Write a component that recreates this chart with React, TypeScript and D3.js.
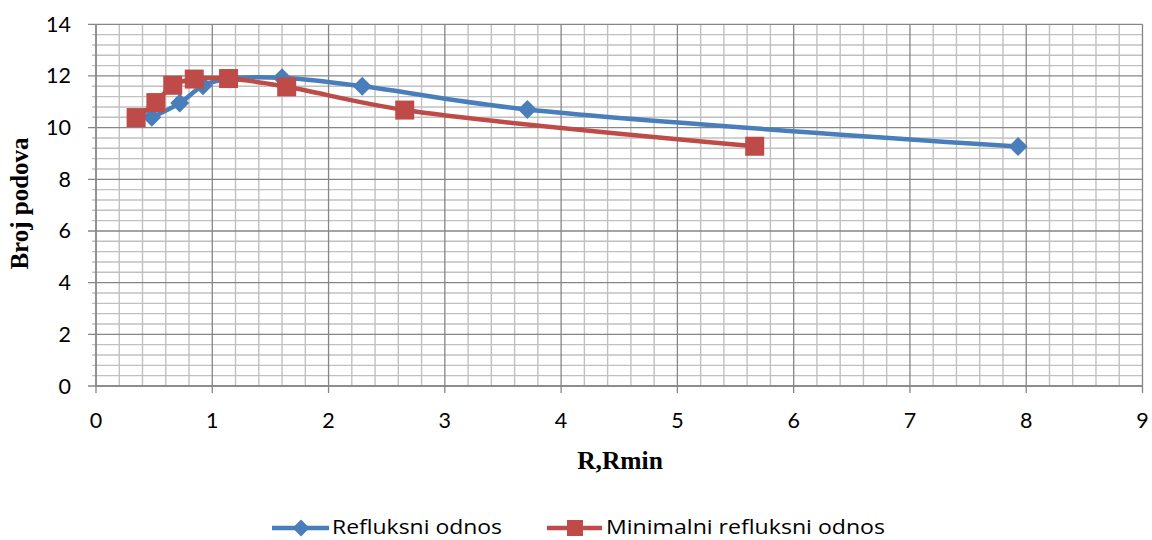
import React from "react";
import * as d3 from "d3";

const refluksX = [0.48, 0.72, 0.92, 1.12, 1.6, 2.29, 3.71, 7.93];
const refluksY = [10.4, 10.95, 11.62, 11.88, 11.93, 11.6, 10.7, 9.27];
const minX = [0.345, 0.515, 0.66, 0.845, 1.14, 1.64, 2.655, 5.665];
const minY = [10.39, 10.97, 11.64, 11.88, 11.9, 11.58, 10.68, 9.28];
const xTicks = [0, 1, 2, 3, 4, 5, 6, 7, 8, 9];
const yTicks = [0, 2, 4, 6, 8, 10, 12, 14];
const seriesNames = ["Refluksni odnos", "Minimalni refluksni odnos"];
const xTitle = "R,Rmin";
const yTitle = "Broj podova";

const BLUE = "#4A7EBB";
const RED = "#BE4B48";
const SANS = "Lato, 'Open Sans', sans-serif";
const LEG = "'Open Sans', Lato, sans-serif";
const SERIF = "'Liberation Serif', 'DejaVu Serif', serif";

export default function App() {
  const x = d3.scaleLinear().domain([0, 9]).range([96, 1142.5]);
  const y = d3.scaleLinear().domain([0, 14]).range([386, 24.3]);
  const minorX = d3.range(0, 9.0001, 0.2).filter((v) => Math.abs(v - Math.round(v)) > 1e-6);
  const minorY = d3.range(0, 14.0001, 0.4).filter((v) => Math.abs(v / 2 - Math.round(v / 2)) > 1e-6);
  const line = d3
    .line<[number, number]>()
    .x((d) => x(d[0]))
    .y((d) => y(d[1]))
    .curve(d3.curveCatmullRom.alpha(0.5));
  const blue: [number, number][] = refluksX.map((v, i) => [v, refluksY[i]]);
  const red: [number, number][] = minX.map((v, i) => [v, minY[i]]);
  const diamond = (cx: number, cy: number, r: number) =>
    `M${cx},${cy - r}L${cx + r},${cy}L${cx},${cy + r}L${cx - r},${cy}Z`;

  return (
    <svg
      width={1152}
      height={540}
      style={{ position: "absolute", left: 0, top: 0, background: "#fff" }}
    >
      {minorX.map((v) => (
        <line key={"mx" + v} x1={x(v)} x2={x(v)} y1={y(0)} y2={y(14)} stroke="#C0C0C0" strokeWidth={1.4} />
      ))}
      {minorY.map((v) => (
        <line key={"my" + v} x1={x(0) - 4} x2={x(9)} y1={y(v)} y2={y(v)} stroke="#C0C0C0" strokeWidth={1.4} />
      ))}
      {xTicks.map((v) => (
        <line key={"gx" + v} x1={x(v)} x2={x(v)} y1={y(0) + 7} y2={y(14)} stroke="#868686" strokeWidth={1.3} />
      ))}
      {yTicks.map((v) => (
        <line key={"gy" + v} x1={x(0) - 8} x2={x(9)} y1={y(v)} y2={y(v)} stroke="#868686" strokeWidth={1.3} />
      ))}
      <line x1={x(0)} x2={x(0)} y1={y(0)} y2={y(14)} stroke="#868686" strokeWidth={1.4} />
      <line x1={x(0)} x2={x(9)} y1={y(0)} y2={y(0)} stroke="#868686" strokeWidth={1.4} />

      {xTicks.map((v) => (
        <text key={"tx" + v} x={x(v)} y={428} textAnchor="middle" fontFamily={SANS} fontSize={21.5} fill="#000">
          {v}
        </text>
      ))}
      {yTicks.map((v) => (
        <text key={"ty" + v} x={71} y={y(v) + 7.5} textAnchor="end" fontFamily={SANS} fontSize={21.5} fill="#000">
          {v}
        </text>
      ))}

      <text x={620} y={469} textAnchor="middle" fontFamily={SERIF} fontWeight="bold" fontSize={25.5}>
        {xTitle}
      </text>
      <text
        transform={`translate(28,203.5) rotate(-90)`}
        textAnchor="middle"
        fontFamily={SERIF}
        fontWeight="bold"
        fontSize={25}
      >
        {yTitle}
      </text>

      <path d={line(blue) || ""} fill="none" stroke={BLUE} strokeWidth={4.5} />
      {blue.map((d, i) => (
        <path key={"b" + i} d={diamond(x(d[0]), y(d[1]), 9.5)} fill={BLUE} />
      ))}
      <path d={line(red) || ""} fill="none" stroke={RED} strokeWidth={4.5} />
      {red.map((d, i) => (
        <rect key={"r" + i} x={x(d[0]) - 9.5} y={y(d[1]) - 9.5} width={19} height={19} fill={RED} />
      ))}

      <line x1={272} x2={329} y1={528} y2={528} stroke={BLUE} strokeWidth={4.5} />
      <path d={diamond(301, 528, 8.5)} fill={BLUE} />
      <text x={332} y={534} fontFamily={LEG} fontSize={20} textLength={170} lengthAdjust="spacingAndGlyphs">
        {seriesNames[0]}
      </text>
      <line x1={547} x2={602} y1={528} y2={528} stroke={RED} strokeWidth={4.5} />
      <rect x={567} y={520} width={16} height={16} fill={RED} />
      <text x={606} y={534} fontFamily={LEG} fontSize={20} textLength={279} lengthAdjust="spacingAndGlyphs">
        {seriesNames[1]}
      </text>
    </svg>
  );
}
